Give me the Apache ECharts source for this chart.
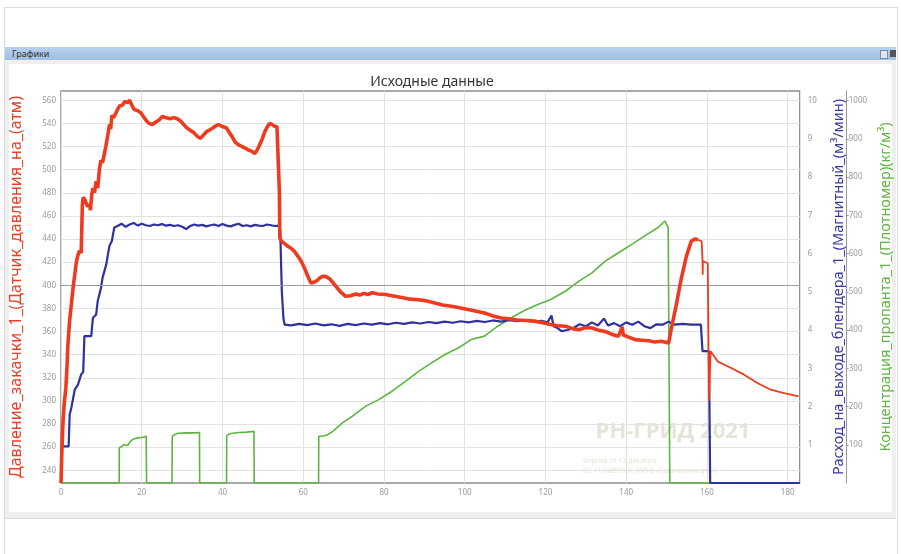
<!DOCTYPE html>
<html>
<head>
<meta charset="utf-8">
<script src="https://cdn.jsdelivr.net/npm/echarts@6/dist/echarts.min.js"></script>
<style>
  html, body { margin:0; padding:0; width:901px; height:554px; background:#fff; overflow:hidden; font-family:"Noto Sans", "DejaVu Sans", sans-serif; }
  .abs { position:absolute; }
  #outer { left:4px; top:7px; width:892px; height:560px; border:1px solid #dadada; }
  #bar { left:5px; top:47px; width:891px; height:13px; background:linear-gradient(#b7d3ef,#9ebfe2); font-size:9px; line-height:13px; color:#333; }
  #bar span { padding-left:7px; }
  #ic1 { left:880px; top:50px; width:6px; height:7px; border:1px solid #7a8ca0; background:#dfe8f2; }
  #ic2 { left:890px; top:50px; width:6px; height:7px; background:#555; }
  #panel { left:5px; top:60px; width:891px; height:458px; background:#efefef; }
  #inner { left:9px; top:64px; width:883px; height:448px; background:#fff; }
  #low { left:5px; top:518px; width:891px; height:40px; border-top:1px solid #dcdcdc; background:#fff; }
  #chart { left:0; top:0; width:901px; height:554px; }
</style>
</head>
<body>
<div id="outer" class="abs"></div>
<div id="bar" class="abs"><span>Графики</span></div>
<div id="ic1" class="abs"></div>
<div id="ic2" class="abs"></div>
<div id="panel" class="abs"></div>
<div id="inner" class="abs"></div>
<div id="low" class="abs"></div>
<div id="chart" class="abs"></div>
<script>
// ---- data (time in minutes) ----
const titleText = "Исходные данные";
const pressureName = "Давление_закачки_1_(Датчик_давления_на_(атм)";
const flowName = "Расход_на_выходе_блендера_1_(Магнитный_(м³/мин)";
const concName = "Концентрация_пропанта_1_(Плотномер)(кг/м³)";

const xTicks = [0, 20, 40, 60, 80, 100, 120, 140, 160, 180];
const pressureTicks = [240, 260, 280, 300, 320, 340, 360, 380, 400, 420, 440, 460, 480, 500, 520, 540, 560];
const flowTicks = [1, 2, 3, 4, 5, 6, 7, 8, 9, 10];
const concTicks = [100, 200, 300, 400, 500, 600, 700, 800, 900, 1000];

const pressureT = [0,0.2,0.5,0.8,1.2,1.5,1.7,2.1,2.55,3.0,3.4,3.8,4.2,4.6,5.0,5.3,5.5,5.9,6.2,6.6,7.05,7.3,7.6,7.9,8.3,8.7,9.1,9.5,9.9,10.3,10.7,11.1,11.6,12.0,12.3,12.6,13.0,13.6,14.0,14.5,15.3,15.8,16.5,17.0,17.5,18.1,19.0,19.8,20.4,21.0,21.8,22.6,23.4,24.3,25.1,25.9,27.0,27.9,28.8,29.6,30.4,31.2,32.0,32.9,33.7,34.5,35.3,36.1,37.2,38.2,39.0,39.8,41.0,41.7,42.3,43.1,43.9,44.8,45.6,46.4,47.2,48.0,48.6,49.2,49.9,50.5,51.1,51.7,52.3,52.9,53.5,53.9,54.1,54.2,54.6,55.4,56.2,57.0,57.8,58.7,59.5,60.3,61.1,61.9,62.5,63.2,64.0,64.8,65.6,66.4,67.2,68.1,69.3,70.5,71.7,73,74,75,76,77.1,78.5,80.4,82,84.4,86.5,88.6,90.5,92.6,94.5,96.7,98.7,100.8,102.9,104.9,107,109,111,113.1,115.2,117.2,119.3,121.3,123,125,126.7,128.3,130,131.6,133.2,134.8,136.5,138.1,139,139.3,140.7,142.2,143.9,145.5,147.1,148.7,150.5,151.2,152.4,153.6,154.9,156.1,157.0,157.8,158.7,158.9,158.95,159.0,159.4,160.2,160.5,160.9,162.7,166,169.2,172.5,175.8,179.1,182.7];
const pressureV = [229,255,282,298,311,330,348,368,383,398,409,420,426,430,428,470,476,474,475,468,470,465,478,484,480,490,484,500,508,506,513,520,530,539,535,547,545,549,552,555,556,559,558,560,556,552,551,549,546,543,540,539,541,543,546,545,544,545,544,542,539,536,534,532,529,527,530,533,535,537.5,539,537.5,536,532,529,524,521.6,520,518.7,517,516,514,517,521.6,527,533,537,540,539,537.5,537,536,480,441,438,436,433.7,432,429.4,425,420.8,415,408,402,402.5,403.5,406,407.8,407.5,406,403,399,394,390.5,391,392.5,391.5,393,392,393.5,392.5,392,391,389.5,388,387.5,386.5,384.7,383,381.8,380.5,379,377.5,376,373.5,371.7,371,370,369.5,369,367.5,366,365,364.5,362.5,361.6,363.5,363,361,360,357.5,356,364,357,355,353,352.5,352,351,351.6,350,363,383,405,425,438,440,439.4,438,421,409,421,421,419,300,343,334,328.5,322.7,315.5,309.7,306.8,304];
// index where the smooth (noise-free) part of the pressure record begins (t = 150.5)
const pressureSmoothFrom = 167;

const flowT = [0,0.15,1.9,2.15,2.55,3.0,3.4,4.2,4.6,5.0,5.5,5.8,7.5,7.9,8.7,9.1,9.9,10.3,11.2,11.6,12.0,12.6,13.2,14,15,16,17,18,19,20,21,22,23,24,25,26,27,28,29,30,31,32,33,34,35,36,37,38,39,40,41,42,43,44,45,46,47,48,49,50,51,52,53,53.9,54.3,54.7,55.1,55.4,57,59,61,63,65,67,69,71,73,75,77,79,81,83,85,87,89,91,93,95,97,99,101,103,105,107,109,111,113,115,117,119,120.5,121.5,122,123,124,125.5,127,128.5,130,131.5,133,134.5,135.5,137,138.5,140,141.5,143,144.5,146,147.5,149,150.5,152,154,156,158.5,158.9,160.5,160.8,183];
const flowV = [0,0.96,0.96,1.79,1.96,2.0,2.44,2.57,2.6,2.84,2.9,3.84,3.84,4.32,4.4,4.76,5.1,5.37,5.71,5.75,6.2,6.33,6.68,6.72,6.78,6.7,6.76,6.8,6.73,6.78,6.74,6.72,6.76,6.74,6.77,6.73,6.75,6.72,6.74,6.7,6.64,6.72,6.76,6.73,6.75,6.71,6.74,6.76,6.72,6.77,6.73,6.71,6.75,6.78,6.72,6.74,6.71,6.75,6.73,6.72,6.76,6.74,6.72,6.73,6.6,5.0,4.3,4.14,4.12,4.16,4.13,4.17,4.12,4.15,4.11,4.16,4.13,4.17,4.14,4.18,4.15,4.19,4.16,4.2,4.17,4.21,4.18,4.22,4.19,4.23,4.2,4.24,4.21,4.25,4.22,4.26,4.23,4.25,4.22,4.24,4.2,4.38,4.1,4.05,3.97,4.0,4.06,4.15,4.1,4.2,4.12,4.3,4.12,4.18,4.1,4.2,4.14,4.22,4.1,4.05,4.15,4.14,4.22,4.14,4.16,4.14,4.14,3.45,3.45,0,0];

const concT = [0,14.4,14.45,15,15.5,16.5,17.3,18,19,20,21.1,21.2,27.5,27.55,28.2,29,31,33,34.3,34.35,41.0,41.05,41.6,42.5,44,46,47.8,47.85,63.8,63.85,65,66,67.3,69.7,72.2,75.5,78.7,82,85.3,88.6,91.8,95.1,98.4,101.6,104.9,108.2,111.5,114.8,118.1,121.3,125,128.3,131.6,134.8,138.1,141.4,144.6,147.9,149.6,150.4,150.8,183];
const concV = [0,0,92,95,100,98,110,115,118,119,122,0,0,122,127,130,131,131,132,0,0,124,128,130,132,133,135,0,0,122,123,126,135,157,175,201,218,240,266,292,314,336,353,375,384,410,432,451,467,480,502,528,550,580,602,624,646,668,685,668,0,0];

const zip = (t, v) => t.map((x, i) => [x, v[i]]);
const pressureData = zip(pressureT, pressureV);

const chart = echarts.init(document.getElementById('chart'), null, { renderer: 'canvas' });
const lbl = { color: '#9a9a9a', fontSize: 8, fontFamily: 'Noto Sans', formatter: v => String(v) };

chart.setOption({
  backgroundColor: 'transparent',
  animation: false,
  grid: { left: 59, right: 95, top: 91, bottom: 71, show: true, borderColor: '#8c8c8c', borderWidth: 1.5, backgroundColor: '#fff' },
  graphic: [
    { type: 'text', style: { text: titleText, x: 432, y: 82, textAlign: 'center', textVerticalAlign: 'middle', fill: '#333', font: '14px "Noto Sans"' }, z: 10 },
    { type: 'text', style: { text: 'РН-ГРИД 2021', x: 673, y: 432, textAlign: 'center', textVerticalAlign: 'middle', fill: '#e4e4d8', font: 'bold 22px "Open Sans"' }, z: 1, silent: true },
    { type: 'text', style: { text: 'Версия от 12 декабря', x: 583, y: 461, textAlign: 'left', textVerticalAlign: 'middle', fill: '#e2e2d6', font: '7px "Open Sans"' }, z: 1, silent: true },
    { type: 'text', style: { text: 'ID: 1180859901 (ООО «Башнипинефть»)', x: 583, y: 471, textAlign: 'left', textVerticalAlign: 'middle', fill: '#e2e2d6', font: '7px "Open Sans"' }, z: 1, silent: true }
  ],
  xAxis: {
    type: 'value', min: 0, max: 183, interval: 20,
    axisLine: { show: false }, axisTick: { show: false },
    axisLabel: Object.assign({ margin: 6, customValues: xTicks }, lbl),
    splitLine: { show: true, lineStyle: { color: '#e2e2e2', width: 1 } }
  },
  yAxis: [
    {
      type: 'value', position: 'left', min: 229, max: 568,
      axisLine: { show: false },
      axisTick: { show: false, customValues: pressureTicks },
      axisLabel: Object.assign({ margin: 5, customValues: pressureTicks }, lbl),
      splitLine: { show: true, lineStyle: { color: '#e2e2e2', width: 1 } },
      name: pressureName, nameLocation: 'middle', nameGap: 37, nameRotate: 90,
      nameTextStyle: { color: '#ec3d25', fontSize: 16, fontFamily: 'Noto Sans' }
    },
    {
      type: 'value', position: 'right', min: 0, max: 10.25,
      axisLine: { show: false },
      axisTick: { show: false, customValues: flowTicks },
      axisLabel: Object.assign({ margin: 8, customValues: flowTicks }, lbl),
      splitLine: { show: false },
      name: flowName, nameLocation: 'middle', nameGap: 32, nameRotate: 90,
      nameTextStyle: { color: '#3a3a9c', fontSize: 14.5, fontFamily: 'Noto Sans' }
    },
    {
      type: 'value', position: 'right', offset: 46, min: 0, max: 1025,
      axisLine: { show: true, lineStyle: { color: '#9a9a9a', width: 1 } },
      axisTick: { show: true, length: 3, customValues: concTicks, lineStyle: { color: '#9a9a9a' } },
      axisLabel: Object.assign({ margin: 3, customValues: concTicks }, lbl),
      splitLine: { show: false },
      name: concName, nameLocation: 'middle', nameGap: 28, nameRotate: 90,
      nameTextStyle: { color: '#5fb443', fontSize: 14.5, fontFamily: 'Noto Sans' }
    }
  ],
  series: [
    {
      type: 'line', yAxisIndex: 2, data: zip(concT, concV), showSymbol: false,
      lineStyle: { color: '#5cb53e', width: 1.6 }, z: 3
    },
    {
      type: 'line', yAxisIndex: 1, data: zip(flowT, flowV), showSymbol: false,
      lineStyle: { color: '#2e31a0', width: 2.2 }, z: 4
    },
    {
      type: 'line', yAxisIndex: 0, data: pressureData.slice(0, pressureSmoothFrom + 1), showSymbol: false,
      lineStyle: { color: '#ee3a1e', width: 3.6 }, z: 5,
      markLine: {
        silent: true, symbol: ['none', 'none'], label: { show: false },
        lineStyle: { color: '#9c9c9c', width: 1, type: 'solid' },
        data: [{ yAxis: 400 }]
      }
    },
    {
      type: 'line', yAxisIndex: 0, data: pressureData.slice(pressureSmoothFrom), showSymbol: false,
      lineStyle: { color: '#ee3a1e', width: 1.8 }, z: 5
    }
  ]
});
</script>
</body>
</html>
